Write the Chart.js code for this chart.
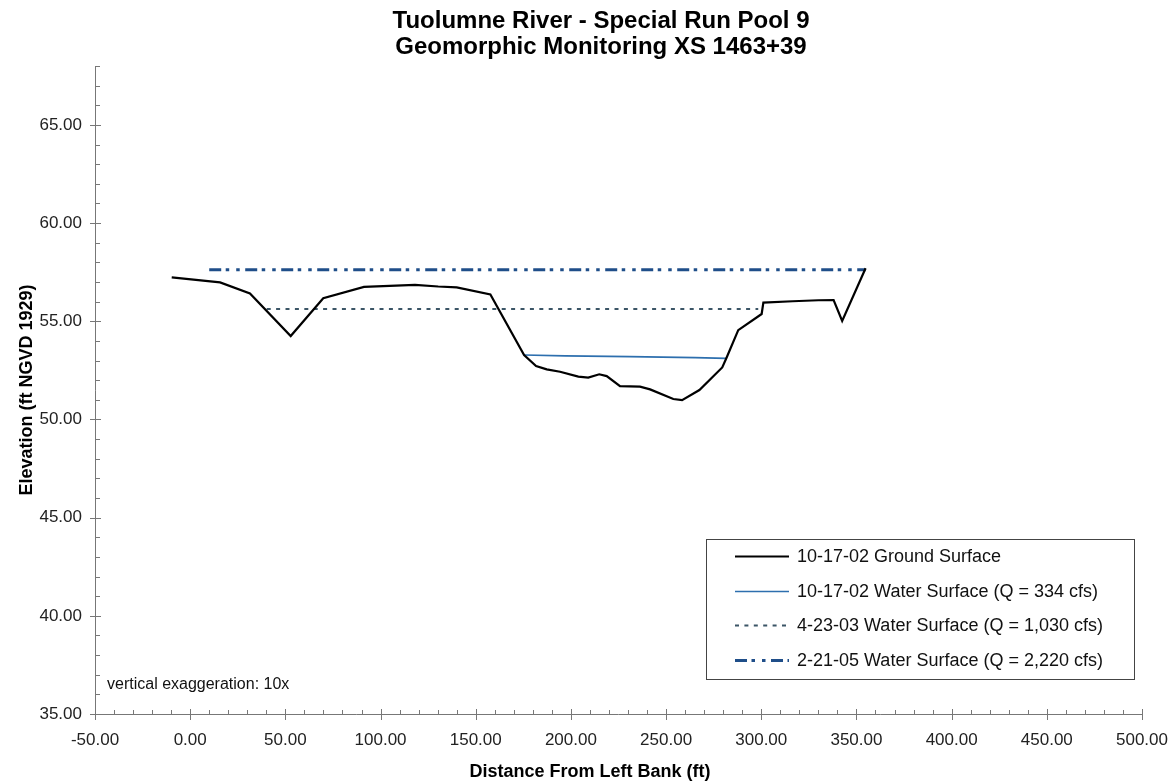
<!DOCTYPE html>
<html><head><meta charset="utf-8">
<script src="https://cdn.jsdelivr.net/npm/chart.js@4.4.1/dist/chart.umd.min.js"></script>
<style>html,body{margin:0;padding:0;background:#fff;}canvas{display:block;}</style>
</head><body>
<canvas id="c" width="1174" height="784"></canvas>
<script>
const titleLines = ["Tuolumne River - Special Run Pool 9", "Geomorphic Monitoring XS 1463+39"];
const xAxisTitle = "Distance From Left Bank (ft)";
const yAxisTitle = "Elevation (ft NGVD 1929)";
const noteText = "vertical exaggeration: 10x";

const seriesLabels = [
  "10-17-02 Ground Surface",
  "10-17-02 Water Surface (Q = 334 cfs)",
  "4-23-03 Water Surface (Q = 1,030 cfs)",
  "2-21-05 Water Surface (Q = 2,220 cfs)"
];

const groundX = [-9.7, 15.7, 31.4, 52.8, 69.9, 91.3, 118.1, 130.3, 140.0, 157.7, 175.4, 181.7, 187.3, 194.3, 203.9, 209.1, 214.9, 218.8, 225.8, 236.3, 241.6, 253.8, 258.4, 267.5, 279.5, 281.7, 287.9, 300.2, 301.1, 316.5, 330.0, 338.0, 342.5, 354.8];
const groundY = [57.24, 56.98, 56.42, 54.25, 56.17, 56.75, 56.85, 56.77, 56.73, 56.37, 53.28, 52.72, 52.55, 52.43, 52.18, 52.13, 52.30, 52.21, 51.70, 51.67, 51.53, 51.04, 50.98, 51.50, 52.65, 53.13, 54.55, 55.37, 55.95, 56.02, 56.07, 56.08, 55.02, 57.70];

const ws021017X = [175.4, 196.9, 231.0, 265.2, 281.6];
const ws021017Y = [53.28, 53.24, 53.20, 53.15, 53.11];

const ws030423X = [40.2, 298.4];
const ws030423Y = [55.62, 55.62];

const ws050221X = [10.0, 354.8];
const ws050221Y = [57.62, 57.62];

const xTickValues = [-50, 0, 50, 100, 150, 200, 250, 300, 350, 400, 450, 500];
const yTickValues = [35, 40, 45, 50, 55, 60, 65];
const xMinorStep = 10;
const yMinorStep = 1;
const xRange = [-50, 500];
const yRange = [35, 68];

const FONT = "'Liberation Sans', Arial, Helvetica, sans-serif";
const pts = (xs, ys) => xs.map((x, i) => ({x: x, y: ys[i]}));

const overlay = {
  id: 'overlay',
  afterDraw(chart) {
    const ctx = chart.ctx;
    const xs = chart.scales.x, ys = chart.scales.y;
    const L = xs.left, R = xs.right, B = ys.bottom, T = ys.top;
    ctx.save();
    ctx.strokeStyle = '#777';
    ctx.lineWidth = 1;
    ctx.beginPath();
    ctx.moveTo(L + 0.5, T); ctx.lineTo(L + 0.5, B + 0.5);
    ctx.moveTo(L, B + 0.5); ctx.lineTo(R, B + 0.5);
    for (let v = xRange[0]; v <= xRange[1] + 1e-9; v += xMinorStep) {
      const px = Math.round(xs.getPixelForValue(v)) + 0.5;
      if (xTickValues.includes(v)) { ctx.moveTo(px, B - 5); ctx.lineTo(px, B + 6); }
      else { ctx.moveTo(px, B - 4); ctx.lineTo(px, B); }
    }
    for (let v = yRange[0]; v <= yRange[1] + 1e-9; v += yMinorStep) {
      const py = Math.round(ys.getPixelForValue(v)) + 0.5;
      if (yTickValues.includes(v)) { ctx.moveTo(L - 5, py); ctx.lineTo(L + 6, py); }
      else { ctx.moveTo(L, py); ctx.lineTo(L + 5, py); }
    }
    ctx.stroke();

    ctx.fillStyle = '#000';
    ctx.textAlign = 'center';
    ctx.textBaseline = 'middle';
    ctx.font = 'bold 24px ' + FONT;
    ctx.fillText(titleLines[0], 601, 21);
    ctx.fillText(titleLines[1], 601, 47);

    ctx.font = 'bold 18px ' + FONT;
    ctx.fillText(xAxisTitle, 590, 772);
    ctx.save();
    ctx.translate(27, (T + B) / 2);
    ctx.rotate(-Math.PI / 2);
    ctx.fillText(yAxisTitle, 0, 0);
    ctx.restore();

    ctx.font = '16px ' + FONT;
    ctx.textAlign = 'left';
    ctx.fillStyle = '#111';
    ctx.fillText(noteText, 107, 685);

    const bx = 706.5, by = 539.5, bw = 428, bh = 140;
    ctx.fillStyle = '#fff';
    ctx.fillRect(bx, by, bw, bh);
    ctx.strokeStyle = '#444';
    ctx.lineWidth = 1;
    ctx.strokeRect(bx, by, bw, bh);
    ctx.font = '18px ' + FONT;
    chart.data.datasets.forEach((ds, i) => {
      const y = 556 + i * 34.7;
      ctx.save();
      ctx.strokeStyle = ds.borderColor;
      ctx.lineWidth = ds.borderWidth;
      ctx.setLineDash(ds.borderDash || []);
      ctx.beginPath();
      ctx.moveTo(735, Math.round(y) + 0.5);
      ctx.lineTo(789, Math.round(y) + 0.5);
      ctx.stroke();
      ctx.restore();
      ctx.fillStyle = '#111';
      ctx.textAlign = 'left';
      ctx.textBaseline = 'middle';
      ctx.fillText(ds.label, 797, y + 1);
    });
    ctx.restore();
  }
};

new Chart(document.getElementById('c'), {
  type: 'scatter',
  data: {
    datasets: [
      {label: seriesLabels[0], data: pts(groundX, groundY), showLine: true, borderColor: '#000', borderWidth: 2.2, pointRadius: 0, tension: 0},
      {label: seriesLabels[1], data: pts(ws021017X, ws021017Y), showLine: true, borderColor: '#2d6fae', borderWidth: 1.6, pointRadius: 0},
      {label: seriesLabels[2], data: pts(ws030423X, ws030423Y), showLine: true, borderColor: '#3b5566', borderWidth: 2, borderDash: [4, 5.4], pointRadius: 0},
      {label: seriesLabels[3], data: pts(ws050221X, ws050221Y), showLine: true, borderColor: '#1f4e89', borderWidth: 3, borderDash: [12, 4.5, 3.5, 7, 3.5, 5.5], pointRadius: 0}
    ]
  },
  options: {
    responsive: false,
    animation: false,
    layout: {padding: {left: 0, top: 66, right: 32, bottom: 0}},
    plugins: {legend: {display: false}, title: {display: false}, tooltip: {enabled: false}},
    scales: {
      x: {
        type: 'linear', min: xRange[0], max: xRange[1],
        afterBuildTicks: s => { s.ticks = xTickValues.map(v => ({value: v})); },
        afterFit: s => { s.height = 70; s.paddingLeft = 0; s.paddingRight = 0; },
        grid: {display: false, drawTicks: false},
        border: {display: false},
        ticks: {callback: v => Number(v).toFixed(2), font: {family: FONT, size: 17}, color: '#222', padding: 16, maxRotation: 0, autoSkip: false}
      },
      y: {
        type: 'linear', min: yRange[0], max: yRange[1],
        afterBuildTicks: s => { s.ticks = yTickValues.map(v => ({value: v})); },
        afterFit: s => { s.width = 95; s.paddingTop = 0; s.paddingBottom = 0; },
        grid: {display: false, drawTicks: false},
        border: {display: false},
        ticks: {callback: v => Number(v).toFixed(2), font: {family: FONT, size: 17}, color: '#222', padding: 13, autoSkip: false}
      }
    }
  },
  plugins: [overlay]
});
</script>
</body></html>
